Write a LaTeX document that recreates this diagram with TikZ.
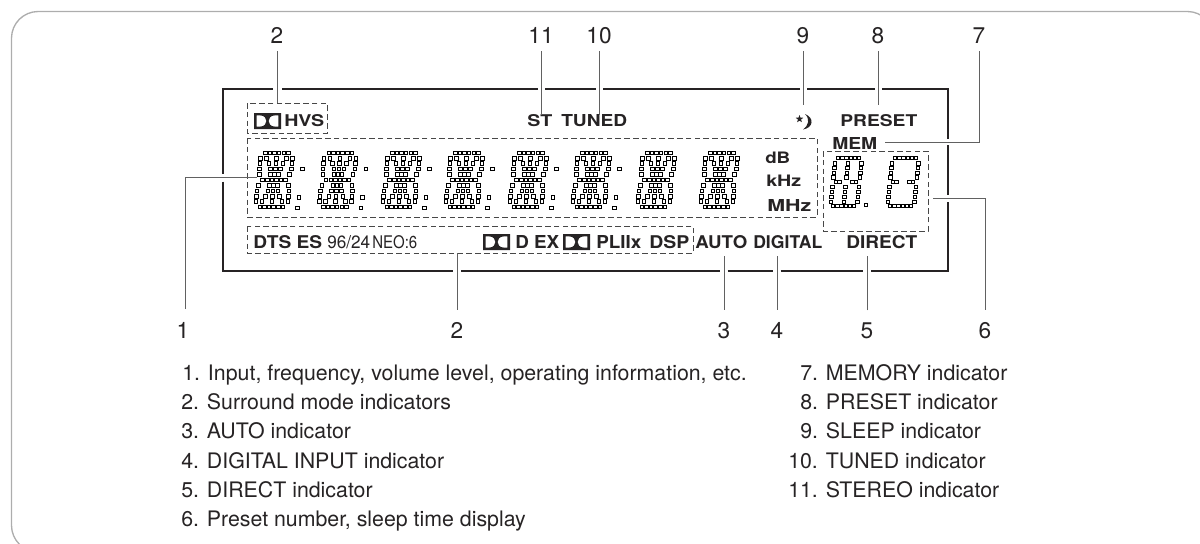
\documentclass[tikz,border=0pt]{standalone}
\usepackage{fontspec}
\setmainfont{TeX Gyre Heros}
\usetikzlibrary{shapes.geometric}
\newdimen\pxu \pxu=.75pt
\definecolor{ink}{HTML}{262324}
\tikzset{
  x=.75pt,y=-.75pt,
  framebox/.style={draw=black!32,line width=1.0pt,rounded corners=20pt},
  panel/.style={draw=ink,line width=.85pt},
  leader/.style={draw=black!62,line width=.62pt},
  dashbox/.style={draw=black!72,line width=.62pt,dash pattern=on 4.2pt off 2.4pt},
  dotsq/.style={draw=black,fill=white,line width=.5pt},
  num/.style={font=\fontsize{17}{19}\selectfont,text=ink,inner sep=0pt,anchor=base,outer sep=6pt},
  numb/.style={num,outer sep=9pt},
  item/.style={font=\fontsize{16}{19}\selectfont,text=ink,inner sep=0pt,anchor=base west},
  fit/.style={inner sep=0pt,anchor=base west,text=ink},
}
\newcommand{\ft}[6]{\node[fit] (#1) at (#2,#3) {\resizebox{#4\pxu}{#5\pxu}{\bfseries #6}};}
\newcommand{\ftm}[6]{\node[fit] (#1) at (#2,#3) {\resizebox{#4\pxu}{#5\pxu}{#6}};}
\newcommand{\dotat}[2]{\draw[dotsq] (#1-1.75,#2-1.75) rectangle ++(3.5,3.5);}
\newcommand{\bigdigit}[1]{%
  \foreach \rr/\oo in {0/-11.5,0/-6.9,0/-2.3,0/2.3,0/6.9,0/11.5,
    1/-16,1/-10,1/0,1/10,1/16,
    2/-16,2/-7,2/0,2/7,2/16,
    3/-16,3/-5,3/0,3/5,3/16,
    4/-15,4/-4,4/0,4/4,4/15,
    5/-11.5,5/-6.9,5/-2.3,5/2.3,5/6.9,5/11.5,
    6/-15,6/-4,6/0,6/4,6/15,
    7/-16,7/-5,7/0,7/5,7/16,
    8/-16,8/-7,8/0,8/7,8/16,
    9/-16,9/-10,9/0,9/10,9/16,
    10/-11.5,10/-6.9,10/-2.3,10/2.3,10/6.9,10/11.5}{%
    \pgfmathsetmacro\xx{#1+\oo+(5-\rr)*0.55}%
    \pgfmathsetmacro\yy{152.7+\rr*5.43}%
    \dotat{\xx}{\yy}%
  }}
\newcommand{\pts}[1]{%
  \dotat{#1+28.3}{169}\dotat{#1+25}{197.3}\dotat{#1+23.3}{208}}
\newcommand{\smalldigit}[2]{%
  \foreach \yy/\oo in {158/-10.5,158/-6.3,158/-2.1,158/2.1,158/6.3,158/10.5,
    206/-10.5,206/-6.3,206/-2.1,206/2.1,206/6.3,206/10.5,
    182/-10,182/-6.5,182/6.5,182/10,
    163.3/-13.3,168/-13.3,172.7/-13.3,177.4/-13.3,
    163.3/13.3,168/13.3,172.7/13.3,177.4/13.3,
    186.7/-13.3,191.7/-13.3,196.7/-13.3,201.7/-13.3,
    186.7/13.3,191.7/13.3,196.7/13.3,201.7/13.3,#2}{%
    \pgfmathsetmacro\xx{#1+\oo+(182-\yy)*0.105}%
    \dotat{\xx}{\yy}%
  }}
\newcommand{\dolby}[2]{%
  \fill[ink,even odd rule] (#1,#2) rectangle (#1+27,#2+16)
    (#1+2.7,#2+2.4) -- (#1+6,#2+2.4) .. controls (#1+14.6,#2+2.4) and (#1+14.6,#2+13.6) .. (#1+6,#2+13.6) -- (#1+2.7,#2+13.6) -- cycle
    (#1+24.3,#2+2.4) -- (#1+21,#2+2.4) .. controls (#1+12.4,#2+2.4) and (#1+12.4,#2+13.6) .. (#1+21,#2+13.6) -- (#1+24.3,#2+13.6) -- cycle;}
\begin{document}
\begin{tikzpicture}
\useasboundingbox (0,0) rectangle (1200,543);
\begin{scope}
  \clip (0,0) rectangle (1200,543);
  \draw[framebox] (11.5,11.5) rectangle (1214,552);
\end{scope}
% display panel, broken where leaders cross
\draw[panel] (273,89) -- (223,89) -- (223,173.5)
  (223,181.5) -- (223,271) -- (453,271)
  (461,271) -- (720,271) (727.5,271) -- (773,271) (780.5,271) -- (863,271) (871,271) -- (948,271) -- (948,201.5)
  (948,194.5) -- (948,145) (948,139) -- (948,89) -- (882,89) (875,89) -- (807,89) (800,89) -- (602.5,89)
  (595.5,89) -- (545,89) (538,89) -- (281.5,89);
% dashed groups
\draw[dashbox] (247,103) rectangle (327,133);
\draw[dashbox] (247,138) rectangle (817,217);
\draw[dashbox] (247,226) rectangle (693,253);
\draw[dashbox] (823,151) rectangle (928,231);
% digits
\foreach \c in {274,337.5,401,464,528,591}{\bigdigit{\c}\pts{\c}}
\foreach \c in {656,719}{\bigdigit{\c}}
\smalldigit{846}{163.3/0,168/0,172.7/0,177.4/0,186.7/0,191.7/0,196.7/0,201.7/0}
\smalldigit{903}{182/-10}
\dotat{866}{205}
% display texts
\dolby{254}{113}\dolby{483}{234}\dolby{563}{234}
\ft{hvs}{284}{126}{40}{12}{HVS}
\ft{st}{527}{126}{25}{12}{ST}
\ft{tuned}{561}{126}{66}{12}{TUNED}
\ft{preset}{840}{126}{77}{12}{PRESET}
\ft{mem}{832}{149}{45}{12}{MEM}
\ft{db}{765}{163}{25}{11.5}{dB}
\ft{khz}{766}{186}{35}{11.5}{kHz}
\ft{mhz}{767}{211}{44}{12}{MHz}
\ft{dts}{253}{248}{69}{13}{DTS ES}
\ftm{nine}{327}{248}{43}{13}{96/24}
\ft{neo}{372}{248}{45}{13}{\mdseries NEO:6}
\ft{dex}{515}{248}{44}{13}{D EX}
\ft{pl}{596}{248}{45}{13}{PLIIx}
\ft{dsp}{649}{248}{40}{13}{DSP}
\ft{auto}{695}{248}{52}{13}{AUTO}
\ft{dig}{753}{248}{69}{13}{DIGITAL}
\ft{dir}{846}{248}{71}{13}{DIRECT}
% sleep symbol
\node[star,star points=5,star point ratio=2.4,fill=ink,inner sep=0pt,minimum size=6pt] (sleepstar) at (799.5,119) {};
\fill[ink] (805,114) .. controls (815,118) and (813,128) .. (803,129.5) .. controls (809,125) and (810,119) .. (805,114) -- cycle;
% labels
\node[num] (t2) at (277,43) {2};
\node[num] (t11) at (541,43) {11};
\node[num] (t10) at (599,43) {10};
\node[num] (t9) at (803,43) {9};
\node[num] (t8) at (878,43) {8};
\node[num] (t7) at (979,43) {7};
\node[numb] (b1) at (183,338) {1};
\node[numb] (b2) at (457,338) {2};
\node[numb] (b3) at (724,338) {3};
\node[numb] (b4) at (777,338) {4};
\node[numb] (b5) at (867,338) {5};
\node[numb] (b6) at (985,338) {6};
% leader ends
\coordinate (e2) at (277,103);
\coordinate (e11) at (541,115);
\coordinate (e10) at (599,115);
\coordinate (e9) at (803,105);
\coordinate (e8) at (878,105);
\coordinate (e7) at (885,142);
\coordinate (b1top) at (185,309);
\coordinate (e1) at (257,177.5);
\coordinate (e6) at (933,198);
\coordinate (eb2) at (457,253);
\coordinate (eb3) at (724,256);
\coordinate (eb4) at (777,256);
\coordinate (eb5) at (867,256);
\draw[leader] (t2.south) -- (t2.south |- e2);
\draw[leader] (t11.south) -- (t11.south |- e11);
\draw[leader] (t10.south) -- (t10.south |- e10);
\draw[leader] (t9.south) -- (t9.south |- e9);
\draw[leader] (t8.south) -- (t8.south |- e8);
\draw[leader] (t7.south) -- (t7.south |- e7) -- (e7);
\draw[leader] (b1top) -- (b1top |- e1) -- (e1);
\draw[leader] (b6.north) -- (b6.north |- e6) -- (e6);
\draw[leader] (b2.north) -- (b2.north |- eb2);
\draw[leader] (b3.north) -- (b3.north |- eb3);
\draw[leader] (b4.north) -- (b4.north |- eb4);
\draw[leader] (b5.north) -- (b5.north |- eb5);
% legend
\node[item] (i1) at (182,380) {1. Input, frequency, volume level, operating information, etc.};
\node[item] (i2) at (181,409) {2. Surround mode indicators};
\node[item] (i3) at (181,438) {3. AUTO indicator};
\node[item] (i4) at (181,468) {4. DIGITAL INPUT indicator};
\node[item] (i5) at (181,497) {5. DIRECT indicator};
\node[item] (i6) at (181,526) {6. Preset number, sleep time display};
\node[item] (i7) at (800,380) {7. MEMORY indicator};
\node[item] (i8) at (800,409) {8. PRESET indicator};
\node[item] (i9) at (800,438) {9. SLEEP indicator};
\node[item] (i10) at (788,468) {10. TUNED indicator};
\node[item] (i11) at (788,497) {11. STEREO indicator};
\end{tikzpicture}
\end{document}
